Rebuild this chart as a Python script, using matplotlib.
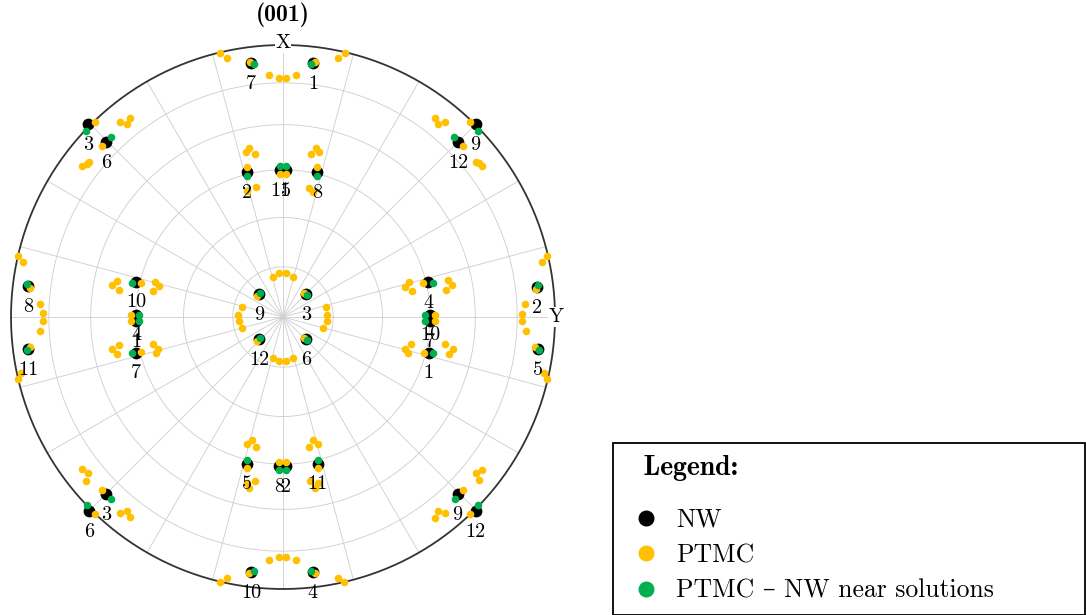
"""(001) pole figure of NW and PTMC variant poles, equal-area projection."""

import numpy as np
import matplotlib
matplotlib.use("Agg")
import matplotlib.pyplot as plt
from matplotlib.lines import Line2D

plt.rcParams['font.family'] = ['cmr10', 'DejaVu Serif']
plt.rcParams['mathtext.fontset'] = 'cm'
plt.rcParams['axes.unicode_minus'] = False

# projected coordinates (x -> Y direction, y -> X direction), unit circle = 90 deg
nw_labels = ["7", "1", "3", "6", "12", "9", "8", "11", "2", "5", "6", "3", "9", "12", "10", "4",
             "2", "8", "11", "5", "10", "7", "4", "1", "4", "1", "10", "7", "5", "11", "8", "2",
             "9", "3", "12", "6"]
nw_poles = np.array([
    # outer ring
    (-0.119, 0.933), (0.111, 0.933), (-0.716, 0.708), (-0.651, 0.644),
    (0.643, 0.644), (0.708, 0.708), (-0.936, 0.115), (-0.936, -0.117),
    (0.935, 0.111), (0.936, -0.117), (-0.713, -0.713), (-0.650, -0.652),
    (0.642, -0.652), (0.708, -0.713), (-0.118, -0.938), (0.110, -0.938),
    # middle ring
    (-0.131, 0.534), (0.126, 0.534), (-0.011, 0.540), (0.010, 0.540),
    (-0.540, 0.130), (-0.539, -0.131), (-0.540, 0.009), (-0.540, -0.015),
    (0.533, 0.128), (0.535, -0.131), (0.540, 0.009), (0.540, -0.015),
    (-0.131, -0.539), (0.127, -0.539), (-0.015, -0.548), (0.010, -0.548),
    # inner ring
    (-0.087, 0.083), (0.085, 0.083), (-0.087, -0.082), (0.085, -0.082),
])

near_poles = np.array([
    (-0.107, 0.930), (0.104, 0.929), (-0.724, 0.685), (-0.633, 0.663),
    (0.629, 0.663), (0.717, 0.684), (-0.942, 0.121), (-0.940, -0.121),
    (0.939, 0.118), (0.941, -0.123), (-0.722, -0.692), (-0.632, -0.668),
    (0.631, -0.668), (0.718, -0.692), (-0.107, -0.934), (0.102, -0.934),
    (-0.131, 0.518), (0.126, 0.518), (-0.011, 0.556), (0.010, 0.556),
    (-0.556, 0.124), (-0.556, -0.131), (-0.529, 0.009), (-0.529, -0.015),
    (0.551, 0.124), (0.551, -0.131), (0.522, 0.009), (0.522, -0.015),
    (-0.131, -0.524), (0.127, -0.524), (-0.015, -0.563), (0.010, -0.563),
    (-0.083, 0.087), (0.089, 0.081), (-0.083, -0.078), (0.089, -0.085),
])

ptmc_poles = np.array([
    # solutions sitting on the NW poles
    (-0.122, 0.938), (0.119, 0.936), (-0.691, 0.718), (-0.667, 0.629),
    (0.663, 0.629), (0.688, 0.718), (-0.931, 0.108), (-0.929, -0.110),
    (0.931, 0.103), (0.928, -0.109), (-0.690, -0.725), (-0.666, -0.636),
    (0.660, -0.636), (0.687, -0.725), (-0.125, -0.942), (0.117, -0.942),
    (-0.131, 0.553), (0.126, 0.553), (-0.011, 0.526), (0.010, 0.526),
    (-0.523, 0.124), (-0.522, -0.129), (-0.559, 0.009), (-0.559, -0.015),
    (0.516, 0.124), (0.518, -0.131), (0.559, 0.009), (0.559, -0.015),
    (-0.131, -0.554), (0.127, -0.554), (-0.015, -0.532), (0.010, -0.532),
    (-0.094, 0.076), (0.078, 0.087), (-0.094, -0.089), (0.078, -0.078),
    # top and bottom rim
    (-0.232, 0.969), (-0.207, 0.953), (0.227, 0.969), (0.202, 0.953),
    (-0.050, 0.890), (-0.014, 0.880), (0.010, 0.880), (0.047, 0.890),
    (-0.232, -0.975), (-0.207, -0.958), (0.203, -0.958), (0.225, -0.975),
    (-0.050, -0.893), (-0.015, -0.883), (0.010, -0.883), (0.047, -0.893),
    # diagonal clusters
    (-0.599, 0.718), (-0.575, 0.708), (-0.563, 0.733),
    (-0.740, 0.556), (-0.720, 0.561), (-0.712, 0.571),
    (0.558, 0.733), (0.570, 0.708), (0.595, 0.718),
    (0.708, 0.569), (0.733, 0.556), (0.721, 0.565),
    (-0.740, -0.560), (-0.716, -0.572), (-0.724, -0.602),
    (-0.599, -0.719), (-0.575, -0.712), (-0.563, -0.736),
    (0.711, -0.572), (0.732, -0.563), (0.722, -0.600),
    (0.557, -0.738), (0.571, -0.713), (0.597, -0.722),
    # left and right rim
    (-0.973, 0.225), (-0.957, 0.203), (-0.893, 0.047), (-0.883, 0.014),
    (-0.882, -0.015), (-0.893, -0.051), (-0.963, -0.207), (-0.973, -0.229),
    (0.969, 0.225), (0.953, 0.201), (0.889, 0.047), (0.880, 0.010),
    (0.878, -0.015), (0.892, -0.051), (0.958, -0.207), (0.969, -0.229),
    # middle ring, top and bottom
    (-0.136, 0.606), (-0.124, 0.622), (-0.103, 0.598), (-0.132, 0.463), (-0.099, 0.478),
    (0.102, 0.598), (0.120, 0.622), (0.132, 0.606), (0.096, 0.475), (0.111, 0.460),
    (-0.133, -0.467), (-0.115, -0.452), (-0.100, -0.479),
    (0.097, -0.479), (0.111, -0.452), (0.128, -0.467),
    (-0.133, -0.611), (-0.103, -0.602), (-0.124, -0.630),
    (0.099, -0.602), (0.130, -0.611), (0.118, -0.630),
    # middle ring, left and right
    (-0.630, 0.118), (-0.611, 0.132), (-0.602, 0.099),
    (-0.471, 0.130), (-0.455, 0.115), (-0.479, 0.096),
    (-0.627, -0.119), (-0.610, -0.136), (-0.603, -0.103),
    (-0.478, -0.099), (-0.458, -0.118), (-0.467, -0.132),
    (0.447, 0.111), (0.463, 0.128), (0.475, 0.096),
    (0.607, 0.136), (0.622, 0.118), (0.598, 0.099),
    (0.450, -0.119), (0.471, -0.100), (0.460, -0.133),
    (0.597, -0.100), (0.624, -0.119), (0.610, -0.137),
    # inner ring
    (-0.038, 0.148), (-0.014, 0.161), (0.011, 0.161), (0.036, 0.148),
    (-0.152, 0.038), (-0.164, 0.007), (-0.161, -0.014), (-0.152, -0.042),
    (0.158, 0.038), (0.163, 0.007), (0.161, -0.014), (0.148, -0.042),
    (-0.038, -0.150), (-0.014, -0.162), (0.011, -0.162), (0.036, -0.150),
])

grid_polar = [15, 30, 45, 60, 75]        # polar angle circles, deg
grid_azimuth = np.arange(0, 360, 15)     # spokes, deg

NW_COLOR = 'black'
PTMC_COLOR = '#FFC000'
NEAR_COLOR = '#00B050'


def schmidt_radius(polar_deg):
    """Equal-area (Schmidt) radius for a polar angle, rim at 90 deg."""
    return np.sin(np.radians(polar_deg) / 2) / np.sin(np.radians(45))


fig = plt.figure(figsize=(10.86, 6.15), dpi=100)
ax = fig.add_axes([11 / 1086, 26 / 615, 544 / 1086, 544 / 615])
ax.set_xlim(-1, 1)
ax.set_ylim(-1, 1)
ax.axis('off')

# grid
t = np.linspace(0, 2 * np.pi, 400)
for p in grid_polar:
    r = schmidt_radius(p)
    ax.plot(r * np.cos(t), r * np.sin(t), color='#d0d0d0', lw=0.65, zorder=1)
for a in np.radians(grid_azimuth):
    ax.plot([0, np.sin(a)], [0, np.cos(a)], color='#d0d0d0', lw=0.65, zorder=1)
ax.plot(np.cos(t), np.sin(t), color='#333333', lw=1.3, zorder=2, clip_on=False)

ax.scatter(nw_poles[:, 0], nw_poles[:, 1], s=72, c=NW_COLOR, linewidths=0, zorder=3)
ax.scatter(ptmc_poles[:, 0], ptmc_poles[:, 1], s=30, c=PTMC_COLOR, linewidths=0, zorder=4)
ax.scatter(near_poles[:, 0], near_poles[:, 1], s=30, c=NEAR_COLOR, linewidths=0, zorder=5)

for lab, (x, y) in zip(nw_labels, nw_poles):
    ax.annotate(lab, (x, y), xytext=(0, -15), textcoords='offset points',
                ha='center', va='center', fontsize=14.5, zorder=6)

box = dict(facecolor='white', edgecolor='none', pad=0.6)
ax.text(0, 1.007, 'X', ha='center', va='center', fontsize=14.5, bbox=box, zorder=6)
ax.text(1.006, 0, 'Y', ha='center', va='center', fontsize=14.5, bbox=box, zorder=6)
ax.text(0, 1.112, '(001)', ha='center', va='center', fontsize=17, family='cmb10')

# legend
handles = [Line2D([], [], ls='none', marker='o', ms=10.5, mfc=c, mec=c)
           for c in (NW_COLOR, PTMC_COLOR, NEAR_COLOR)]
labels = ['NW', 'PTMC', 'PTMC \u2013 NW near solutions']
leg = fig.legend(handles, labels, loc='upper left',
                 bbox_to_anchor=(613 / 1086, 0, 472 / 1086, 172 / 615),
                 mode='expand', title='  Legend:',
                 title_fontproperties={'family': 'cmb10', 'size': 20},
                 alignment='left', fontsize=18.5, frameon=True, fancybox=False,
                 edgecolor='black', framealpha=1, borderpad=0.47,
                 labelspacing=0.46, handlelength=1.63, handletextpad=0.35,
                 borderaxespad=0)
leg.get_frame().set_linewidth(1.3)
leg._legend_box.sep = 19.4

fig.savefig('out.png', dpi=100)
